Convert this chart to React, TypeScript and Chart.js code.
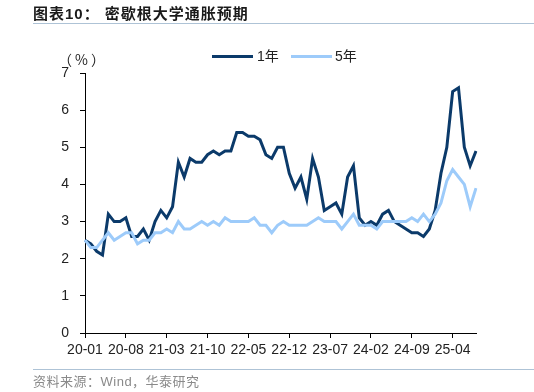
import React, { useEffect, useRef } from "react";
import { Chart, registerables } from "chart.js";

Chart.register(...registerables);

const categories = [
  "20-01","20-02","20-03","20-04","20-05","20-06","20-07","20-08","20-09","20-10","20-11","20-12",
  "21-01","21-02","21-03","21-04","21-05","21-06","21-07","21-08","21-09","21-10","21-11","21-12",
  "22-01","22-02","22-03","22-04","22-05","22-06","22-07","22-08","22-09","22-10","22-11","22-12",
  "23-01","23-02","23-03","23-04","23-05","23-06","23-07","23-08","23-09","23-10","23-11","23-12",
  "24-01","24-02","24-03","24-04","24-05","24-06","24-07","24-08","24-09","24-10","24-11","24-12",
  "25-01","25-02","25-03","25-04","25-05","25-06","25-07","25-08",
];

const oneYear = [
  2.5, 2.4, 2.2, 2.1, 3.2, 3.0, 3.0, 3.1, 2.6, 2.6, 2.8, 2.5,
  3.0, 3.3, 3.1, 3.4, 4.6, 4.2, 4.7, 4.6, 4.6, 4.8, 4.9, 4.8,
  4.9, 4.9, 5.4, 5.4, 5.3, 5.3, 5.2, 4.8, 4.7, 5.0, 5.0, 4.3,
  3.9, 4.2, 3.6, 4.7, 4.2, 3.3, 3.4, 3.5, 3.2, 4.2, 4.5, 3.1,
  2.9, 3.0, 2.9, 3.2, 3.3, 3.0, 2.9, 2.8, 2.7, 2.7, 2.6, 2.8,
  3.3, 4.3, 5.0, 6.5, 6.6, 5.0, 4.5, 4.9,
];

const fiveYear = [
  2.5, 2.3, 2.3, 2.5, 2.7, 2.5, 2.6, 2.7, 2.7, 2.4, 2.5, 2.5,
  2.7, 2.7, 2.8, 2.7, 3.0, 2.8, 2.8, 2.9, 3.0, 2.9, 3.0, 2.9,
  3.1, 3.0, 3.0, 3.0, 3.0, 3.1, 2.9, 2.9, 2.7, 2.9, 3.0, 2.9,
  2.9, 2.9, 2.9, 3.0, 3.1, 3.0, 3.0, 3.0, 2.8, 3.0, 3.2, 2.9,
  2.9, 2.9, 2.8, 3.0, 3.0, 3.0, 3.0, 3.0, 3.1, 3.0, 3.2, 3.0,
  3.2, 3.5, 4.1, 4.4, 4.2, 4.0, 3.4, 3.9,
];

const seriesNames = ["1年", "5年"];
const seriesColors = ["#0b3a6a", "#9dcbfa"];
const labelEvery = 7;

const FONT = "'Liberation Sans', Arial, 'Noto Sans CJK SC', sans-serif";
const CJK = "'Noto Sans CJK SC', sans-serif";

export default function App() {
  const canvasRef = useRef<HTMLCanvasElement | null>(null);

  useEffect(() => {
    const canvas = canvasRef.current;
    if (!canvas) return;
    const chart = new Chart(canvas, {
      type: "line",
      data: {
        labels: categories,
        datasets: [
          {
            label: seriesNames[0],
            data: oneYear,
            borderColor: seriesColors[0],
            backgroundColor: seriesColors[0],
            borderWidth: 3,
            pointRadius: 0,
            tension: 0,
          },
          {
            label: seriesNames[1],
            data: fiveYear,
            borderColor: seriesColors[1],
            backgroundColor: seriesColors[1],
            borderWidth: 3,
            pointRadius: 0,
            tension: 0,
          },
        ].reverse(),
      },
      options: {
        responsive: false,
        animation: false,
        devicePixelRatio: 1,
        layout: { padding: { left: 0, right: 58, top: 73, bottom: 34 } },
        plugins: {
          legend: { display: false },
          tooltip: { enabled: false },
          title: { display: false },
        },
        scales: {
          x: {
            type: "category",
            offset: false,
            grid: {
              display: true,
              drawOnChartArea: false,
              drawTicks: true,
              tickLength: 5,
              color: "#000",
            },
            border: { display: true, color: "#000", width: 1 },
            ticks: {
              autoSkip: false,
              maxRotation: 0,
              minRotation: 0,
              padding: 4,
              color: "#222",
              font: { family: FONT, size: 14 },
              callback: (_v: any, i: number) =>
                i % labelEvery === 0 ? categories[i] : null,
            },
            afterFit: (s: any) => {
              s.height = 25;
            },
          },
          y: {
            min: 0,
            max: 7,
            grid: {
              display: true,
              drawOnChartArea: false,
              drawTicks: true,
              tickLength: 5,
              color: "#000",
            },
            border: { display: true, color: "#000", width: 1 },
            ticks: {
              stepSize: 1,
              padding: 11,
              color: "#222",
              font: { family: FONT, size: 14 },
            },
            afterFit: (s: any) => {
              s.width = 85;
            },
          },
        },
      },
    });
    return () => chart.destroy();
  }, []);

  const abs = (o: React.CSSProperties): React.CSSProperties => ({
    position: "absolute",
    ...o,
  });

  return (
    <div
      style={{
        position: "fixed",
        left: 0,
        top: 0,
        width: 534,
        height: 392,
        background: "#fff",
        overflow: "hidden",
        fontFamily: FONT,
      }}
    >
      <canvas
        ref={canvasRef}
        width={534}
        height={392}
        style={{ position: "absolute", left: 0, top: 0, width: 534, height: 392 }}
      />
      <div
        style={abs({
          left: 33,
          top: 4,
          fontSize: 15,
          fontWeight: "bold",
          color: "#1a1a1a",
          letterSpacing: 1,
          whiteSpace: "nowrap",
          lineHeight: "20px",
        })}
      >
        图表10：&nbsp;密歇根大学通胀预期
      </div>
      <div style={abs({ left: 33, top: 23, width: 501, height: 1, background: "#aec3d6" })} />
      <div
        style={abs({
          left: 58,
          top: 49,
          fontSize: 14,
          fontFamily: CJK,
          color: "#222",
          whiteSpace: "nowrap",
          lineHeight: "20px",
          letterSpacing: 3,
        })}
      >
        （%）
      </div>
      {seriesNames.map((name, i) => (
        <React.Fragment key={name}>
          <div
            style={abs({
              left: i === 0 ? 212 : 291,
              top: 55,
              width: 41,
              height: 3,
              background: seriesColors[i],
            })}
          />
          <div
            style={abs({
              left: i === 0 ? 257 : 335,
              top: 47,
              fontSize: 14,
              color: "#222",
              whiteSpace: "nowrap",
              lineHeight: "18px",
            })}
          >
            {name}
          </div>
        </React.Fragment>
      ))}
      <div style={abs({ left: 33, top: 369, width: 501, height: 1, background: "#aec3d6" })} />
      <div
        style={abs({
          left: 33,
          top: 373,
          fontSize: 13,
          color: "#8a8a8a",
          letterSpacing: 0.5,
          whiteSpace: "nowrap",
          lineHeight: "17px",
        })}
      >
        资料来源：Wind，华泰研究
      </div>
    </div>
  );
}
